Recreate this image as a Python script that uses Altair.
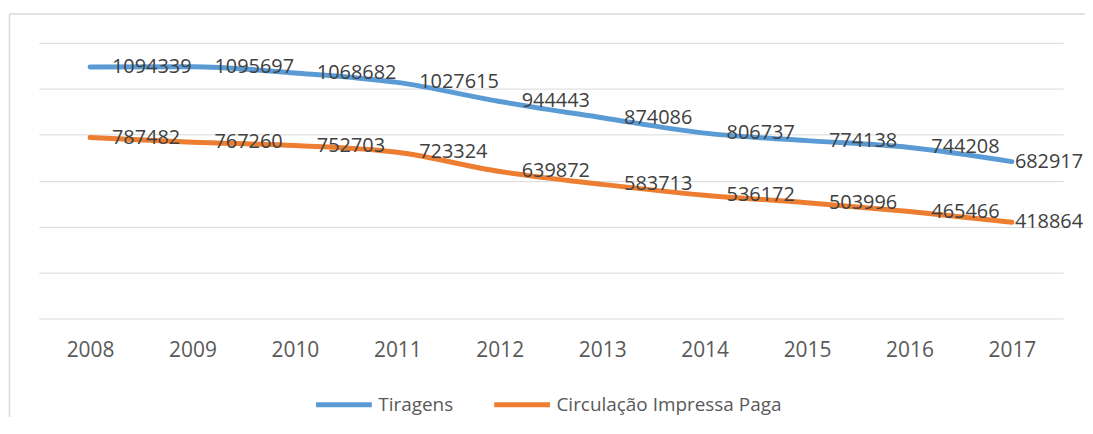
import altair as alt
import pandas as pd

years = ["2008", "2009", "2010", "2011", "2012", "2013", "2014", "2015", "2016", "2017"]
tiragens = [1094339, 1095697, 1068682, 1027615, 944443, 874086, 806737, 774138, 744208, 682917]
circulacao = [787482, 767260, 752703, 723324, 639872, 583713, 536172, 503996, 465466, 418864]
series_names = ["Tiragens", "Circulação Impressa Paga"]
colors = ["#5B9BD5", "#ED7D31"]
grid_values = [0, 200000, 400000, 600000, 800000, 1000000, 1200000]

rows = []
for yr, t, c in zip(years, tiragens, circulacao):
    rows.append({"ano": yr, "serie": series_names[0], "valor": t})
    rows.append({"ano": yr, "serie": series_names[1], "valor": c})
df = pd.DataFrame(rows)

W, H = 1029, 277
FONT = "Open Sans"

x = alt.X(
    "ano:N",
    sort=years,
    scale=alt.Scale(type="point", padding=0.5),
    axis=alt.Axis(title=None, labelAngle=0, tickSize=0, domain=False, grid=False,
                  labelPadding=21, labelFont=FONT, labelFontSize=21, labelColor="#595959"),
)
y = alt.Y(
    "valor:Q",
    scale=alt.Scale(domain=[0, 1200000], nice=False, zero=True),
    axis=alt.Axis(title=None, labels=False, ticks=False, domain=False, values=grid_values,
                  grid=True, gridColor="#D9D9D9", gridWidth=1),
)

base = alt.Chart(df)

lines = base.mark_line(strokeWidth=5, strokeCap="round", strokeJoin="round", interpolate="monotone").encode(
    x=x,
    y=y,
    color=alt.Color(
        "serie:N",
        sort=series_names,
        scale=alt.Scale(domain=series_names, range=colors),
        legend=alt.Legend(
            title=None, orient="none", legendX=276, legendY=333, direction="horizontal",
            symbolType="stroke", symbolSize=3136, symbolStrokeWidth=5,
            labelFont=FONT, labelFontSize=19, labelColor="#595959", labelOffset=4,
            columnPadding=30, padding=0, labelLimit=400,
        ),
    ),
)

labels_main = base.transform_filter(alt.datum.ano != "2017").mark_text(
    align="left", baseline="middle", dx=22, font=FONT, fontSize=20, color="#404040"
).encode(x=x, y=y, text=alt.Text("valor:Q", format="d"))

labels_last = base.transform_filter(alt.datum.ano == "2017").mark_text(
    align="left", baseline="middle", dx=3, font=FONT, fontSize=20, color="#404040"
).encode(x=x, y=y, text=alt.Text("valor:Q", format="d"))

frame_df = pd.DataFrame({"k": [0]})
frame_left = alt.Chart(frame_df).mark_rule(color="#D9D9D9", strokeWidth=1.5).encode(
    x=alt.value(-29.5), y=alt.value(-29), y2=alt.value(H + 140)
)
frame_top = alt.Chart(frame_df).mark_rule(color="#D9D9D9", strokeWidth=1.5).encode(
    x=alt.value(-29.5), x2=alt.value(W + 80), y=alt.value(-29)
)

chart = alt.layer(frame_left, frame_top, lines, labels_main, labels_last).properties(
    width=W,
    height=H,
    padding={"left": 31, "top": 34, "right": 22, "bottom": 98},
    autosize=alt.AutoSizeParams(type="none"),
).configure_view(stroke=None)

chart.save("out.html", embed_options={"renderer": "svg", "actions": False})
